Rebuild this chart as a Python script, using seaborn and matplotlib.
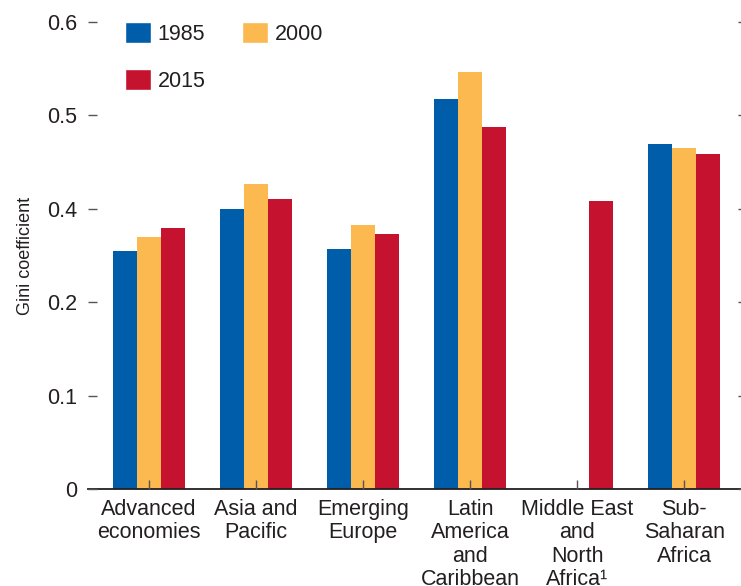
import numpy as np
import pandas as pd
import matplotlib
matplotlib.use("Agg")
import matplotlib.pyplot as plt
import seaborn as sns
from matplotlib.patches import Patch
from matplotlib import font_manager

regions = ["Advanced\neconomies", "Asia and\nPacific", "Emerging\nEurope",
           "Latin\nAmerica\nand\nCaribbean", "Middle East\nand\nNorth\nAfrica¹",
           "Sub-\nSaharan\nAfrica"]
years = ["1985", "2000", "2015"]
# heights in axis units (ticks equally spaced, labelled as in the original)
v1985 = [0.255, 0.300, 0.257, 0.418, np.nan, 0.369]
v2000 = [0.270, 0.327, 0.283, 0.447, np.nan, 0.365]
v2015 = [0.279, 0.310, 0.273, 0.388, 0.308, 0.359]
tick_pos = [0, 0.1, 0.2, 0.3, 0.4, 0.5]
tick_labels = ["0", "0.1", "0.2", "0.4", "0.5", "0.6"]
colors = ["#005DAA", "#FBB950", "#C4122F"]

df = pd.DataFrame({
    "region": regions * 3,
    "year": [years[0]] * 6 + [years[1]] * 6 + [years[2]] * 6,
    "value": v1985 + v2000 + v2015,
})

sns.set_theme(style="white")
plt.rcParams["font.family"] = ["Liberation Sans", "DejaVu Sans"]
txt = "#231F20"
fs = 15.5

fig = plt.figure(figsize=(7.41, 5.86), dpi=100)
ax = fig.add_axes([88 / 741, 1 - 489 / 586, 1 - 88 / 741, (489 - 22) / 586])

sns.barplot(data=df, x="region", y="value", hue="year", hue_order=years,
            palette=colors, width=0.67, errorbar=None, linewidth=0,
            saturation=1, legend=False, ax=ax)

ax.set_axisbelow(False)
ax.set_xlim(-0.57, 5.53)
ax.set_ylim(0, 0.5)
ax.set_yticks(tick_pos)
ax.set_yticklabels(tick_labels)
ax.set_xlabel("")

names = [f.name for f in font_manager.fontManager.ttflist]
yl_font = "Liberation Sans Narrow" if "Liberation Sans Narrow" in names else "Liberation Sans"
ax.set_ylabel("Gini coefficient", fontsize=13, color=txt, family=[yl_font, "DejaVu Sans"],
              labelpad=9)

for s in ["left", "top", "right"]:
    ax.spines[s].set_visible(False)
ax.spines["bottom"].set_color(txt)
ax.spines["bottom"].set_linewidth(1.3)

ax.tick_params(axis="x", direction="in", length=6.5, width=1, color="#555555",
               pad=7.5, labelsize=fs, labelcolor=txt, bottom=True)
ax.tick_params(axis="y", direction="in", length=6.5, width=1, color="#555555",
               pad=8, labelsize=fs, labelcolor=txt, left=True, right=True)
for t in ax.yaxis.get_major_ticks():
    t.tick2line.set_markersize(2.5)
for lab in ax.get_xticklabels():
    lab.set_linespacing(1.13)

handles = [Patch(facecolor=colors[0], label="1985"),
           Patch(facecolor=colors[2], label="2015"),
           Patch(facecolor=colors[1], label="2000")]
ax.legend(handles=handles, ncol=2, loc="upper left",
          bbox_to_anchor=((125 - 88) / 653, 1.0), frameon=False,
          fontsize=fs, handlelength=1.21, handleheight=1.1,
          handletextpad=0.3, columnspacing=1.72, labelspacing=1.15,
          borderpad=0, borderaxespad=0, labelcolor=txt)

fig.savefig("out.png", dpi=100)
